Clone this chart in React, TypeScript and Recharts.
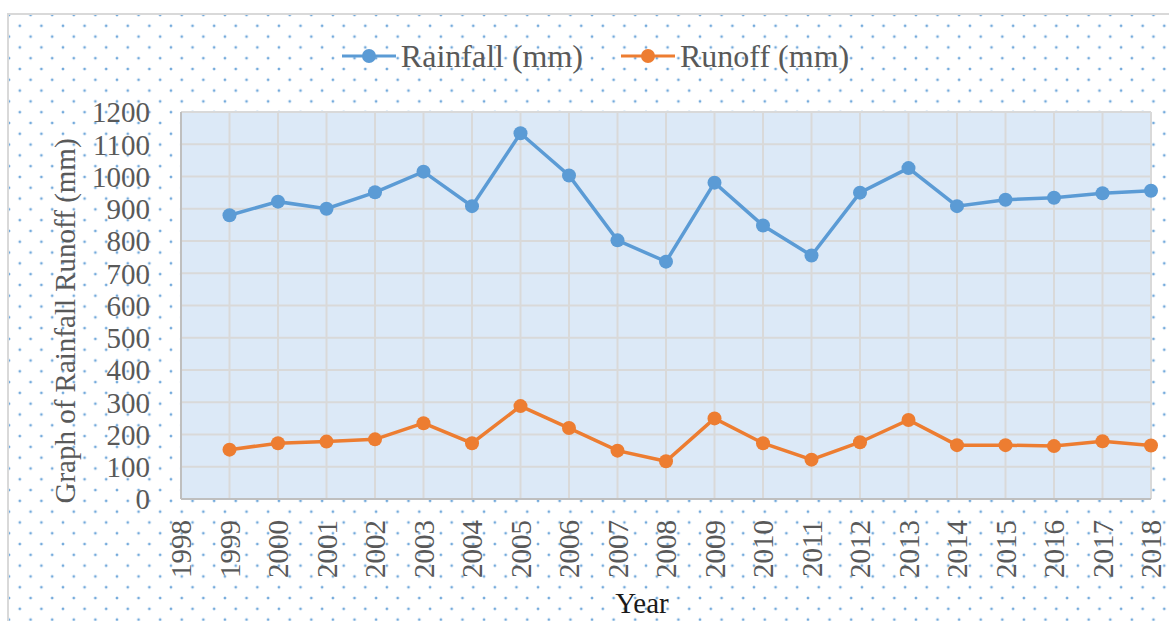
import React from 'react';
import { CartesianGrid, Legend, Line, LineChart, XAxis, YAxis } from 'recharts';

// values
const years = [
    '1998', '1999', '2000', '2001', '2002', '2003', '2004', '2005', '2006', '2007', '2008',
    '2009', '2010', '2011', '2012', '2013', '2014', '2015', '2016', '2017', '2018',
];
const rainfall = [
    null, 880, 922, 900, 951, 1015, 908, 1134, 1003, 802, 736,
    981, 848, 755, 950, 1026, 908, 928, 934, 948, 956,
];
const runoff = [
    null, 153, 173, 178, 185, 235, 173, 288, 220, 150, 117,
    250, 173, 122, 176, 245, 167, 167, 164, 179, 166,
];
const yTicks = [0, 100, 200, 300, 400, 500, 600, 700, 800, 900, 1000, 1100, 1200];

const data = years.map((year, i) => ({ year, rainfall: rainfall[i], runoff: runoff[i] }));

const FONT = '"Liberation Serif", "Times New Roman", serif';
const BLUE = '#5B9BD5';
const ORANGE = '#ED7D31';
const GRAY_TEXT = '#595959';

const XTick = ({ x, y, payload }: any) => (
    <text
        x={x}
        y={y}
        dy="0.35em"
        transform={`rotate(-90, ${x}, ${y})`}
        textAnchor="end"
        fontFamily={FONT}
        fontSize={29}
        fill={GRAY_TEXT}
    >
        {payload.value}
    </text>
);

const LegendContent = ({ payload }: any) => (
    <div style={{ display: 'flex', justifyContent: 'center', alignItems: 'center', height: 40, paddingLeft: 22 }}>
        {(payload || []).map((entry: any, i: number) => (
            <div key={i} style={{ display: 'flex', alignItems: 'center', marginLeft: i > 0 ? 38 : 0 }}>
                <svg width={54} height={16}>
                    <line x1={0} y1={8} x2={54} y2={8} stroke={entry.color} strokeWidth={3} />
                    <circle cx={27} cy={8} r={7} fill={entry.color} />
                </svg>
                <span style={{ fontFamily: FONT, fontSize: 32, color: GRAY_TEXT, marginLeft: 5, lineHeight: '40px' }}>
                    {entry.value}
                </span>
            </div>
        ))}
    </div>
);

const dotsBg = {
    backgroundColor: '#ffffff',
    backgroundImage:
        'radial-gradient(circle, rgba(91,155,213,0.85) 1.1px, transparent 1.7px), radial-gradient(circle, rgba(91,155,213,0.85) 1.1px, transparent 1.7px)',
    backgroundSize: '21.6px 21.6px',
    backgroundPosition: '0px 0px, 10.8px 10.8px',
};

export default function App() {
    return (
        <div style={{ position: 'absolute', left: 0, top: 0, width: 1169, height: 621, background: '#fff', overflow: 'hidden' }}>
            <div
                style={{
                    position: 'absolute',
                    left: 7,
                    top: 13,
                    width: 1170,
                    height: 620,
                    border: '2px solid #d9d9d9',
                    boxSizing: 'border-box',
                    ...dotsBg,
                }}
            />
            <div style={{ position: 'absolute', left: 0, top: 0 }}>
                <LineChart width={1169} height={621} data={data} margin={{ top: 72, right: 18, bottom: 0, left: 0 }}>
                    <CartesianGrid stroke="#d9d9d9" strokeWidth={2} fill="#dce9f7" fillOpacity={1} />
                    <XAxis
                        dataKey="year"
                        interval={0}
                        height={122}
                        tickSize={0}
                        tickMargin={21}
                        tick={<XTick />}
                        axisLine={{ stroke: '#bfbfbf', strokeWidth: 2 }}
                        tickLine={false}
                        label={{
                            content: () => (
                                <text x={642} y={613} textAnchor="middle" fontFamily={FONT} fontSize={29} fill="#1a1a1a">
                                    Year
                                </text>
                            ),
                        }}
                    />
                    <YAxis
                        width={181}
                        domain={[0, 1200]}
                        ticks={yTicks}
                        interval={0}
                        tickSize={0}
                        tickMargin={31}
                        tick={{ fontFamily: FONT, fontSize: 29, fill: GRAY_TEXT }}
                        axisLine={{ stroke: '#bfbfbf', strokeWidth: 2 }}
                        tickLine={false}
                        label={{
                            content: () => (
                                <text
                                    x={65}
                                    y={321}
                                    dy="0.35em"
                                    transform="rotate(-90, 65, 321)"
                                    textAnchor="middle"
                                    fontFamily={FONT}
                                    fontSize={29}
                                    fill={GRAY_TEXT}
                                >
                                    Graph of Rainfall Runoff (mm)
                                </text>
                            ),
                        }}
                    />
                    <Legend
                        verticalAlign="top"
                        align="center"
                        content={<LegendContent />}
                        wrapperStyle={{ top: 36, left: 0, width: 1169, height: 40 }}
                    />
                    <Line
                        type="linear"
                        dataKey="rainfall"
                        name="Rainfall (mm)"
                        stroke={BLUE}
                        strokeWidth={3.5}
                        dot={{ r: 7, fill: BLUE, stroke: BLUE, strokeWidth: 0 }}
                        activeDot={false}
                        isAnimationActive={false}
                    />
                    <Line
                        type="linear"
                        dataKey="runoff"
                        name="Runoff (mm)"
                        stroke={ORANGE}
                        strokeWidth={3.5}
                        dot={{ r: 7, fill: ORANGE, stroke: ORANGE, strokeWidth: 0 }}
                        activeDot={false}
                        isAnimationActive={false}
                    />
                </LineChart>
            </div>
        </div>
    );
}
